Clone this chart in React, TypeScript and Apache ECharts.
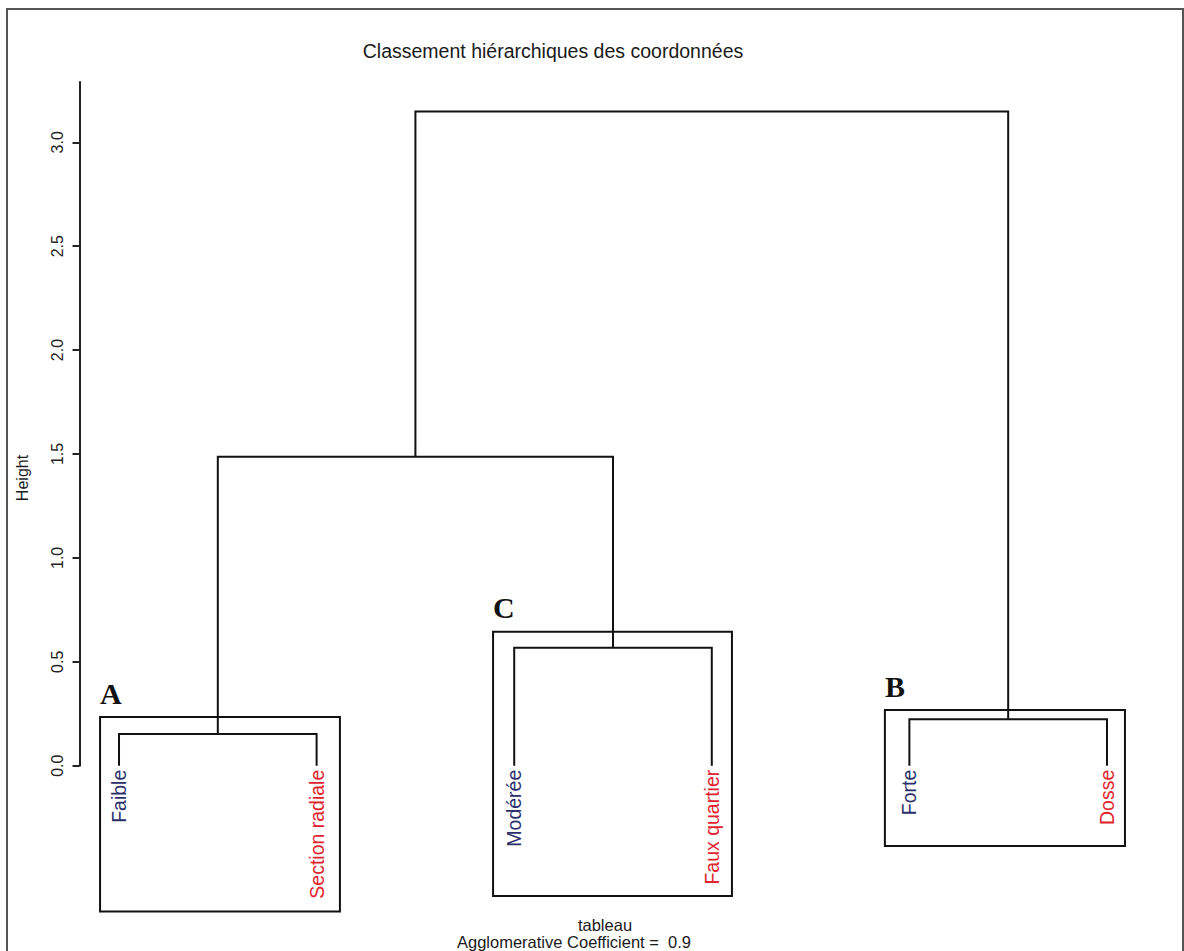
import React, { useEffect, useRef } from "react";
import * as echarts from "echarts";

// Leaves of the dendrogram (left to right)
const leafNames = ["Faible", "Section radiale", "Modérée", "Faux quartier", "Forte", "Dosse"];
const leafColors = ["#2a2f6c", "#e2232e", "#2a2f6c", "#e2232e", "#2a2f6c", "#e2232e"];

// Merge steps (R-style: negative = leaf index (1-based), positive = earlier merge step)
const mergeLeft = [-1, -3, -5, 1, 4];
const mergeRight = [-2, -4, -6, 2, 3];
const mergeHeight = [0.152, 0.567, 0.223, 1.487, 3.148];

// Y-axis tick labels
const yTicks = [0, 0.5, 1.0, 1.5, 2.0, 2.5, 3.0];

// Cluster boxes (data units: x from, x to, height top, height bottom) and their letters
const boxNames = ["A", "C", "B"];
const boxX0 = [0.904, 2.893, 4.876];
const boxX1 = [2.118, 4.102, 6.091];
const boxTop = [0.234, 0.644, 0.268];
const boxBottom = [-0.702, -0.627, -0.387];

const titleText = "Classement hiérarchiques des coordonnées";
const subText1 = "tableau";
const subText2 = "Agglomerative Coefficient =  0.9";

export default function App() {
  const ref = useRef<HTMLDivElement>(null);

  useEffect(() => {
    document.body.style.margin = "0";
    if (!ref.current) return;
    const chart = echarts.init(ref.current, undefined, { renderer: "svg" });

    // compute x positions and heights of every node
    const nodeX = (id: number, mx: number[]): number => (id < 0 ? -id : mx[id - 1]);
    const nodeH = (id: number): number => (id < 0 ? 0 : mergeHeight[id - 1]);
    const mergeX: number[] = [];
    for (let i = 0; i < mergeLeft.length; i++) {
      mergeX.push((nodeX(mergeLeft[i], mergeX) + nodeX(mergeRight[i], mergeX)) / 2);
    }
    const segData = mergeLeft.map((l, i) => [
      nodeX(l, mergeX),
      nodeH(l),
      nodeX(mergeRight[i], mergeX),
      nodeH(mergeRight[i]),
      mergeHeight[i],
    ]);

    const leafData = leafNames.map((n, i) => [i + 1, 0, i]);
    const boxData = boxNames.map((n, i) => [boxX0[i], boxX1[i], boxTop[i], boxBottom[i], i]);

    const sans = "'Liberation Sans', Arial, Helvetica, sans-serif";

    chart.setOption({
      animation: false,
      backgroundColor: "#ffffff",
      grid: { left: 79.5, right: 37.5, top: 82, bottom: 185.3, containLabel: false },
      xAxis: { type: "value", min: 0.8, max: 6.2, show: false },
      yAxis: {
        type: "value",
        min: 0,
        max: 3.29,
        splitLine: { show: false },
        axisLine: { show: true, lineStyle: { color: "#222", width: 2 } },
        axisTick: { show: true, length: 7, lineStyle: { color: "#222", width: 2 }, customValues: yTicks },
        axisLabel: {
          customValues: yTicks,
          rotate: 90,
          margin: 14,
          fontSize: 16,
          fontFamily: sans,
          color: "#222",
          formatter: (v: number) => v.toFixed(1),
        },
      },
      graphic: [
        {
          type: "rect",
          shape: { x: 7, y: 9, width: 1176, height: 980 },
          style: { fill: "none", stroke: "#555", lineWidth: 2 },
          silent: true,
        },
        {
          type: "text",
          x: 553,
          y: 51,
          style: { text: titleText, fontSize: 19.5, fontFamily: sans, fill: "#1a1a1a", align: "center", verticalAlign: "middle" },
        },
        {
          type: "text",
          x: 22,
          y: 478,
          rotation: Math.PI / 2,
          style: { text: "Height", fontSize: 16, fontFamily: sans, fill: "#1a1a1a", align: "center", verticalAlign: "middle" },
        },
        {
          type: "text",
          x: 605,
          y: 925,
          style: { text: subText1, fontSize: 16.5, fontFamily: sans, fill: "#1a1a1a", align: "center", verticalAlign: "middle" },
        },
        {
          type: "text",
          x: 574,
          y: 942,
          style: { text: subText2, fontSize: 16.5, fontFamily: sans, fill: "#1a1a1a", align: "center", verticalAlign: "middle" },
        },
      ],
      series: [
        {
          type: "custom",
          name: "boxes",
          clip: false,
          data: boxData,
          renderItem: (params: any, api: any) => {
            const p0 = api.coord([api.value(0), api.value(2)]);
            const p1 = api.coord([api.value(1), api.value(3)]);
            const idx = api.value(4);
            return {
              type: "group",
              children: [
                {
                  type: "rect",
                  shape: { x: p0[0], y: p0[1], width: p1[0] - p0[0], height: p1[1] - p0[1] },
                  style: { fill: "none", stroke: "#111", lineWidth: 2 },
                },
                {
                  type: "text",
                  x: p0[0],
                  y: p0[1] - 24,
                  style: {
                    text: boxNames[idx],
                    fontSize: 30,
                    fontWeight: "bold",
                    fontFamily: "'Liberation Serif', 'Times New Roman', serif",
                    fill: "#111",
                    align: "left",
                    verticalAlign: "middle",
                  },
                },
              ],
            };
          },
        },
        {
          type: "custom",
          name: "dendrogram",
          clip: false,
          data: segData,
          renderItem: (params: any, api: any) => {
            const lx = api.value(0), lh = api.value(1), rx = api.value(2), rh = api.value(3), h = api.value(4);
            const pts = [api.coord([lx, lh]), api.coord([lx, h]), api.coord([rx, h]), api.coord([rx, rh])];
            return {
              type: "polyline",
              shape: { points: pts },
              style: { fill: "none", stroke: "#111", lineWidth: 2 },
            };
          },
        },
        {
          type: "custom",
          name: "leaves",
          clip: false,
          data: leafData,
          renderItem: (params: any, api: any) => {
            const p = api.coord([api.value(0), api.value(1)]);
            const idx = api.value(2);
            return {
              type: "text",
              x: p[0],
              y: p[1] + 4,
              rotation: Math.PI / 2,
              style: {
                text: leafNames[idx],
                fontSize: 19.5,
                fontFamily: sans,
                fill: leafColors[idx],
                align: "right",
                verticalAlign: "middle",
              },
            };
          },
        },
      ],
    });

    return () => chart.dispose();
  }, []);

  return <div ref={ref} style={{ width: 1184, height: 951 }} />;
}
